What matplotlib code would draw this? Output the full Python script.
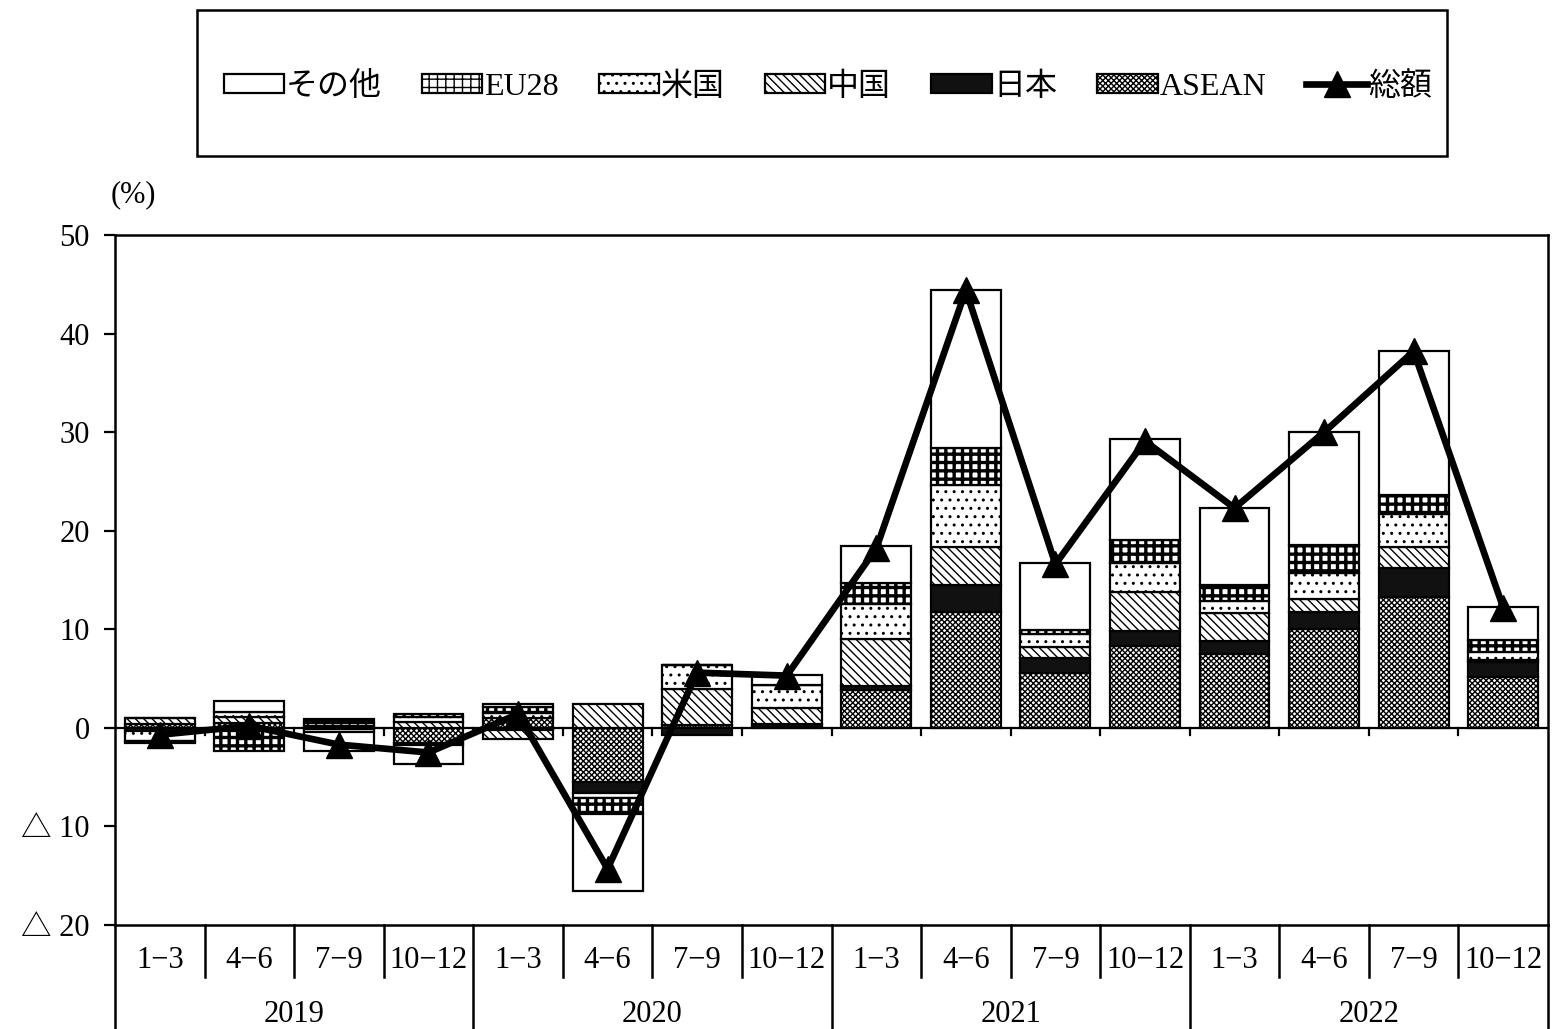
import matplotlib
matplotlib.use("Agg")
import matplotlib.pyplot as plt
from matplotlib.patches import Rectangle, Patch
from matplotlib.lines import Line2D
import numpy as np

plt.rcParams["font.family"] = ["Liberation Serif", "Noto Sans CJK JP"]
plt.rcParams["hatch.linewidth"] = 1.0

quarters = ["1-3", "4-6", "7-9", "10-12"] * 4
years = ["2019", "2020", "2021", "2022"]

asean = [0.4, 0.5, 0.2, -1.5, 1.0, -5.5, 0.3, 0.1, 3.8, 11.8, 5.6, 8.3, 7.5, 10.0, 13.3, 5.2]
japan = [-0.3, -0.3, -0.1, -0.2, -0.2, -1.1, -0.7, 0.3, 0.4, 2.7, 1.5, 1.5, 1.3, 1.8, 2.9, 1.5]
china = [0.6, 0.6, 0.3, 0.6, -0.9, 2.4, 3.6, 1.6, 4.8, 3.8, 1.1, 4.0, 2.9, 1.3, 2.1, 0.2]
usa = [-1.0, 0.5, -0.3, 0.5, 0.5, -0.5, 2.5, 2.3, 3.6, 6.3, 1.3, 2.9, 1.2, 2.6, 3.4, 0.8]
eu28 = [-0.2, -2.0, 0.4, 0.3, 0.6, -1.6, 0.0, 0.0, 2.1, 3.8, 0.4, 2.4, 1.6, 2.9, 1.9, 1.2]
other = [0.0, 1.1, -1.9, -2.0, 0.3, -7.8, 0.0, 1.1, 3.7, 16.0, 6.8, 10.2, 7.8, 11.4, 14.6, 3.4]
total = [-0.7, 0.2, -1.7, -2.5, 1.4, -14.3, 5.6, 5.3, 18.2, 44.4, 16.6, 29.1, 22.3, 30.0, 38.2, 12.2]

# stacking order bottom -> top: (name, values, facecolor, hatch, hatch linewidth)
series = [
    ("ASEAN", asean, "white", "xxxxxx", 1.0),
    ("日本", japan, "#111111", None, 1.0),
    ("中国", china, "white", "\\\\\\\\", 1.0),
    ("米国", usa, "white", "..", 1.0),
    ("EU28", eu28, "white", "++", 2.4),
    ("その他", other, "white", None, 1.0),
]


def _hatch_lw(artist, lw):
    try:
        artist.set_hatch_linewidth(lw)
    except AttributeError:
        pass


fig = plt.figure(figsize=(15.56, 10.29), dpi=100)
ax = fig.add_axes([115 / 1556, 1 - 925 / 1029, (1548 - 115) / 1556, (925 - 235) / 1029])

x = np.arange(len(quarters))
width = 0.78
pos_base = np.zeros(len(x))
neg_base = np.zeros(len(x))
handles = {}
for name, vals, fc, hatch, hlw in series:
    v = np.array(vals)
    base = np.where(v >= 0, pos_base, neg_base)
    bars = ax.bar(x, v, width, bottom=base, facecolor=fc, edgecolor="black",
                  linewidth=1.6, hatch=hatch, zorder=2)
    for b in bars:
        _hatch_lw(b, hlw)
    pos_base = pos_base + np.where(v > 0, v, 0)
    neg_base = neg_base + np.where(v < 0, v, 0)
    h = Patch(facecolor=fc, edgecolor="black", linewidth=1.6, hatch=hatch)
    _hatch_lw(h, hlw)
    handles[name] = h

ax.plot(x, total, color="black", linewidth=4.8, marker="^", markersize=19, zorder=4)
handles["総額"] = Line2D([], [], color="black", linewidth=4.8, marker="^", markersize=19)

ax.set_xlim(-0.5, len(x) - 0.5)
ax.set_ylim(-20, 50)
ax.set_yticks(range(-20, 51, 10))
ax.set_yticklabels(["△ 20", "△ 10", "0", "10", "20", "30", "40", "50"])
ax.tick_params(axis="y", direction="out", length=8, width=1.6, labelsize=22, pad=10)
ax.set_xticks([])
for s in ax.spines.values():
    s.set_linewidth(1.8)

# zero axis with category boundary ticks
ax.axhline(0, color="black", linewidth=1.6, zorder=1)
for b in np.arange(0.5, len(x) - 0.5, 1):
    ax.plot([b, b], [0, -0.75], color="black", linewidth=1.6, zorder=1)

# two-level category axis
tr = ax.get_xaxis_transform()
for i, q in enumerate(quarters):
    ax.text(i, -0.052, q.replace("-", "−"), transform=tr, ha="center", va="center", fontsize=22)
for b in np.arange(0.5, len(x) - 0.5, 1):
    bottom = -0.152 if (b + 0.5) % 4 == 0 else -0.076
    ax.add_line(Line2D([b, b], [0, bottom], transform=tr, color="black", linewidth=1.8, clip_on=False))
for edge in (-0.5, len(x) - 0.5):
    ax.add_line(Line2D([edge, edge], [0, -0.152], transform=tr, color="black", linewidth=1.8, clip_on=False))
for j, yr in enumerate(years):
    ax.text(j * 4 + 1.5, -0.13, yr, transform=tr, ha="center", va="center", fontsize=22)

fig.text(133 / 1556, 1 - 195 / 1029, "(%)", ha="center", va="center", fontsize=22)

# legend in a box
fig.patches.append(Rectangle((197 / 1556, 1 - 156 / 1029), (1447 - 197) / 1556, 146 / 1029,
                             transform=fig.transFigure, fill=False, edgecolor="black", linewidth=1.8))
order = ["その他", "EU28", "米国", "中国", "日本", "ASEAN", "総額"]
fig.legend([handles[k] for k in order], order, loc="center", bbox_to_anchor=(828 / 1556, 1 - 87 / 1029),
           ncol=7, frameon=False, fontsize=23, handlelength=1.9, handleheight=0.56,
           handletextpad=0.05, columnspacing=1.25)

fig.savefig("out.png", dpi=100)
